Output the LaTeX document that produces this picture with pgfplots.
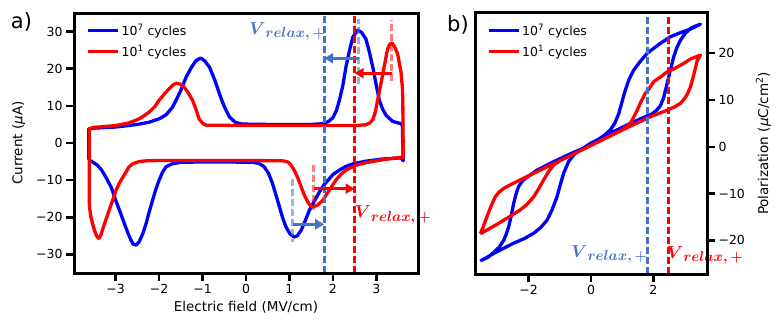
\documentclass[border=0pt]{standalone}
\usepackage{fontspec}
\setmainfont{DejaVu Sans}
\usepackage{amsmath,bm}
\usepackage{pgfplots}
\pgfplotsset{compat=1.18}
\usetikzlibrary{arrows.meta}

\definecolor{vblue}{RGB}{68,114,196}
\definecolor{vred}{RGB}{255,0,0}

\pgfplotsset{
  panel/.style={
    scale only axis, anchor=south west, clip=false,
    separate axis lines,
    axis line style={line width=3pt},
    tick align=outside, major tick length=8pt,
    tick style={black, line width=2.5pt},
    major tick style={black, line width=2.5pt},
    tick label style={font=\fontsize{12.5}{14}\selectfont},
    label style={font=\fontsize{13.5}{16}\selectfont},
    /pgf/number format/assume math mode=true,
    legend style={draw=none, fill=none, font=\fontsize{12.5}{14}\selectfont,
      inner xsep=0pt, inner ysep=0pt, row sep=5pt, anchor=north west},
    legend cell align=left,
    legend image code/.code={\draw[##1, line width=3.4pt] (0pt,0pt) -- (30pt,0pt);},
  },
  curve/.style={line width=3.3pt, line join=round, no marks},
  vline/.style={line width=3pt, dash pattern=on 7pt off 3pt, no marks, forget plot},
  varrow/.style={line width=3pt, no marks, forget plot, -{Triangle[length=9pt,width=10pt]}},
}
\newcommand{\vrel}{{\boldmath$V$\raisebox{-0.35ex}{\fontsize{14}{16}\selectfont$relax,+$}}}
\newcommand{\axisframe}{\draw[line width=3pt, black, line join=miter] (rel axis cs:0,0) rectangle (rel axis cs:1,1);}

\begin{document}
\begin{tikzpicture}
\useasboundingbox (0,0) rectangle (780pt,330pt);

% ---- a) current loops
\begin{axis}[panel,
  at={(74pt,57pt)}, width=344pt, height=260pt,
  xmin=-3.96, xmax=3.96, ymin=-35, ymax=35,
  xtick={-3,-2,-1,0,1,2,3}, xticklabels={−3,−2,−1,0,1,2,3},
  ytick={-30,-20,-10,0,10,20,30}, yticklabels={−30,−20,−10,0,10,20,30},
  xtick pos=lower, ytick pos=left,
  xlabel={Electric field (MV/cm)}, ylabel={Current ({\itshape μ}A)},
  ylabel style={yshift=4pt},
  legend style={at={(0.035,0.965)}},
]
\addplot[curve, blue] coordinates {
 (-3.62,-4.5) (-3.62,3.8) (-3.5,4.0) (-3.0,4.3) (-2.5,5.0) (-2.23,5.6) (-2.0,6.5)
 (-1.84,7.6) (-1.7,9.5) (-1.61,11.5) (-1.5,14.2) (-1.38,17.7) (-1.25,20.5) (-1.15,22.2)
 (-1.04,22.9) (-0.94,22.0) (-0.84,20.4) (-0.72,17) (-0.61,13.2) (-0.5,9.8) (-0.38,7.0)
 (-0.25,5.6) (-0.1,5.1) (0.5,5.0) (1.0,5.0) (1.5,5.0) (1.77,5.2) (1.9,5.8) (2.0,6.8)
 (2.08,8.7) (2.15,11.5) (2.23,15.5) (2.3,20.4) (2.38,24.8) (2.46,28.5) (2.57,30.4)
 (2.66,29.8) (2.76,28.0) (2.84,24.5) (2.92,20.4) (3.0,15.5) (3.07,11.5) (3.15,9.0)
 (3.23,7.4) (3.38,5.8) (3.57,5.2) (3.6,4.8) (3.62,-4.8) (3.57,-4.0) (3.15,-4.3)
 (2.76,-4.9) (2.46,-5.6) (2.3,-6.3) (2.15,-7.3) (2.0,-8.5) (1.92,-9.6) (1.8,-11.2)
 (1.69,-13.2) (1.58,-15.5) (1.46,-18.1) (1.36,-21) (1.27,-23.5) (1.18,-25.0) (1.11,-25.3)
 (1.02,-24.6) (0.92,-22.6) (0.84,-20) (0.77,-17.2) (0.69,-14) (0.61,-10.9) (0.52,-8.2)
 (0.42,-6.4) (0.3,-5.5) (0.15,-5.2) (-0.5,-5.1) (-1.0,-5.1) (-1.5,-5.2) (-1.7,-5.6)
 (-1.84,-6.4) (-1.92,-7.8) (-2.0,-10.0) (-2.08,-12.6) (-2.15,-15.4) (-2.23,-18.6)
 (-2.3,-21.7) (-2.38,-24.5) (-2.46,-26.6) (-2.53,-27.5) (-2.6,-27.2) (-2.65,-26.1)
 (-2.72,-24.2) (-2.8,-21.7) (-2.9,-18.5) (-3.0,-15.4) (-3.1,-12.0) (-3.23,-9.1)
 (-3.33,-7.2) (-3.42,-6.0) (-3.52,-5.2) (-3.62,-4.5)
};
\addlegendentry{10\textsuperscript{7} cycles}
\addplot[curve, red] coordinates {
 (-3.61,-15.4) (-3.61,3.85) (-3.5,4.2) (-3.0,4.7) (-2.7,5.4) (-2.46,6.5) (-2.35,7.3)
 (-2.23,8.3) (-2.1,9.8) (-2.0,11.5) (-1.88,13.2) (-1.77,14.6) (-1.68,15.6) (-1.61,16.1)
 (-1.52,15.9) (-1.42,15.0) (-1.33,13.5) (-1.23,11.5) (-1.15,9.0) (-1.08,6.5) (-1.0,5.3)
 (-0.92,4.8) (0,4.7) (1.0,4.7) (2.0,4.7) (2.5,4.7) (2.76,4.9) (2.85,5.4) (2.92,6.3)
 (2.98,8.5) (3.03,11.5) (3.09,15.0) (3.15,18.6) (3.21,22.3) (3.26,25.3) (3.31,26.6)
 (3.36,26.9) (3.42,26.0) (3.49,24.0) (3.53,21.5) (3.57,19.0) (3.6,15) (3.61,11.5)
 (3.62,-3.8) (3.53,-3.9) (3.15,-4.5) (2.76,-5.3) (2.53,-6.0) (2.3,-7.3) (2.18,-8.5)
 (2.07,-10.0) (1.99,-11.4) (1.92,-12.7) (1.84,-14.1) (1.77,-15.4) (1.65,-16.7)
 (1.54,-17.2) (1.46,-16.6) (1.42,-15.8) (1.35,-14.2) (1.27,-11.8) (1.19,-9.3)
 (1.11,-7.3) (1.03,-5.8) (0.96,-5.1) (0.85,-4.8) (0,-4.7) (-1.0,-4.7) (-2.0,-4.7)
 (-2.3,-4.8) (-2.46,-5.0) (-2.61,-5.6) (-2.7,-6.5) (-2.76,-7.8) (-2.85,-9.5)
 (-2.92,-10.9) (-3.0,-13.0) (-3.07,-15.4) (-3.15,-18.1) (-3.23,-20.8) (-3.3,-23.2)
 (-3.34,-24.8) (-3.39,-25.7) (-3.44,-25.0) (-3.49,-23.5) (-3.53,-21.8) (-3.57,-19.9)
 (-3.6,-17.5) (-3.61,-15.4)
};
\addlegendentry{10\textsuperscript{1} cycles}
% relaxation markers
\addplot[vline, vblue] coordinates {(1.8,-35) (1.8,35)};
\addplot[vline, vred] coordinates {(2.5,-35) (2.5,35)};
\addplot[vline, vblue, opacity=0.55] coordinates {(2.6,16) (2.6,33.3)};
\addplot[vline, vred, opacity=0.5] coordinates {(3.35,16.8) (3.35,33)};
\addplot[vline, vblue, opacity=0.55] coordinates {(1.08,-9.6) (1.08,-26.6)};
\addplot[vline, vred, opacity=0.5] coordinates {(1.56,-6) (1.56,-18)};
\addplot[varrow, vblue] coordinates {(2.6,22.8) (1.8,22.8)};
\addplot[varrow, vred] coordinates {(3.35,18.8) (2.5,18.8)};
\addplot[varrow, vblue] coordinates {(1.08,-21.9) (1.8,-21.9)};
\addplot[varrow, vred] coordinates {(1.56,-12.3) (2.5,-12.3)};
\node[text=vblue, font=\fontsize{17}{20}\selectfont] at (axis cs:0.95,30) {\vrel};
\node[text=vred, font=\fontsize{17}{20}\selectfont] at (axis cs:3.38,-19.4) {\vrel};
\axisframe
\end{axis}

% ---- b) polarization loops
\begin{axis}[panel,
  at={(475pt,56pt)}, width=232pt, height=261pt,
  xmin=-3.72, xmax=3.72, ymin=-27.2, ymax=28.6,
  xtick={-2,0,2}, xticklabels={−2,0,2},
  ytick={-20,-10,0,10,20}, yticklabels={−20,−10,0,10,20},
  xtick pos=lower, ytick pos=right, yticklabel pos=right,
  ylabel={Polarization ({\itshape μ}C/cm\textsuperscript{2})},
  ylabel style={yshift=-4pt},
  legend style={at={(0.05,0.965)}},
]
\addplot[curve, blue] coordinates {
 (-3.55,-24.4) (-3.3,-23.6) (-3.12,-22.6) (-2.95,-21.5) (-2.80,-20.0) (-2.72,-18.7)
 (-2.64,-17.1) (-2.56,-14.8) (-2.48,-12.1) (-2.40,-10.0) (-2.32,-8.5) (-2.21,-7.4)
 (-2.11,-6.8) (-1.73,-5.0) (-1.2,-3.2) (-0.66,-1.5) (0,0.4) (0.62,2.9) (1.26,5.0)
 (1.8,6.6) (1.95,7.0) (2.1,7.8) (2.22,8.7) (2.33,10.5) (2.44,13.5) (2.55,16.5)
 (2.65,19.2) (2.76,21.3) (2.87,22.8) (3.03,24.3) (3.19,25.3) (3.35,25.8) (3.51,26.2)
 (3.2,25.2) (2.87,24.4) (2.54,23.5) (2.2,22.0) (1.80,20.0) (1.55,18.0) (1.37,16.4)
 (1.22,14.4) (1.10,12.1) (0.99,9.5) (0.89,7.1) (0.76,5.0) (0.62,3.6) (0.40,2.3)
 (0.19,1.4) (0,0.8) (-0.3,-0.5) (-0.55,-1.7) (-0.72,-3.2) (-0.88,-5.7) (-0.98,-8.0)
 (-1.09,-10.7) (-1.25,-13.5) (-1.41,-15.7) (-1.62,-17.3) (-1.84,-18.5) (-2.16,-19.7)
 (-2.48,-20.6) (-2.8,-21.7) (-3.12,-22.8) (-3.35,-23.7) (-3.55,-24.4)
};
\addlegendentry{10\textsuperscript{7} cycles}
\addplot[curve, red] coordinates {
 (-3.55,-18.6) (-3.45,-17.0) (-3.34,-15.0) (-3.2,-12.6) (-3.07,-10.7) (-2.95,-9.7)
 (-2.80,-8.9) (-2.55,-8.0) (-2.27,-7.1) (-1.73,-5.3) (-1.09,-3.3) (-0.45,-1.2)
 (0.19,0.9) (0.83,3.0) (1.26,4.4) (1.9,6.4) (2.44,7.8) (2.7,8.6) (2.87,9.3) (3.0,10.3)
 (3.1,11.4) (3.19,12.8) (3.3,15.5) (3.40,18.3) (3.51,19.6)
 (3.2,18.8) (2.97,17.8) (2.7,16.8) (2.44,16.0) (2.2,14.8) (2.01,13.9) (1.85,12.3)
 (1.74,11.4) (1.6,9.6) (1.48,7.8) (1.35,6.1) (1.26,5.0) (1.0,3.6) (0.6,2.3) (0,0.3)
 (-0.6,-1.7) (-1.0,-3.0) (-1.2,-3.9) (-1.36,-5.3) (-1.52,-7.1) (-1.68,-9.0) (-1.84,-10.7)
 (-2.05,-12.3) (-2.27,-13.5) (-2.55,-14.7) (-2.80,-15.7) (-3.02,-16.6) (-3.23,-17.4)
 (-3.55,-18.6)
};
\addlegendentry{10\textsuperscript{1} cycles}
\addplot[vline, vblue] coordinates {(1.8,-27.2) (1.8,28.6)};
\addplot[vline, vred] coordinates {(2.5,-27.2) (2.5,28.6)};
\node[text=vblue, font=\fontsize{17}{20}\selectfont] at (axis cs:0.59,-23) {\vrel};
\node[text=vred, font=\fontsize{17}{20}\selectfont] at (axis cs:3.66,-23.2) {\vrel};
\axisframe
\end{axis}

\node[font=\fontsize{21}{24}\selectfont] at (21.5pt,308pt) {a)};
\node[font=\fontsize{21}{24}\selectfont] at (458pt,305pt) {b)};
\end{tikzpicture}
\end{document}
